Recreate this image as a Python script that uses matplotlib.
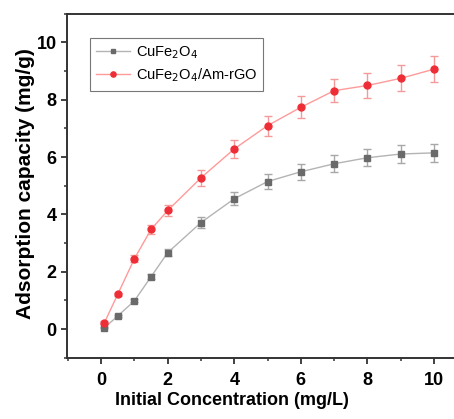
import matplotlib.pyplot as plt
from matplotlib.ticker import MultipleLocator

plt.rcParams['font.family'] = ['Liberation Sans', 'DejaVu Sans']

conc = [0.1, 0.5, 1, 1.5, 2, 3, 4, 5, 6, 7, 8, 9, 10]
cufe = [0.05, 0.46, 0.99, 1.83, 2.67, 3.72, 4.55, 5.15, 5.49, 5.77, 5.98, 6.11, 6.15]
cufe_err = [0.02, 0.03, 0.05, 0.09, 0.13, 0.18, 0.22, 0.27, 0.28, 0.29, 0.29, 0.30, 0.31]
rgo = [0.23, 1.22, 2.46, 3.48, 4.14, 5.28, 6.29, 7.10, 7.74, 8.32, 8.50, 8.75, 9.07]
rgo_err = [0.05, 0.05, 0.12, 0.17, 0.20, 0.28, 0.31, 0.35, 0.38, 0.41, 0.42, 0.45, 0.45]
labels = ['CuFe$_2$O$_4$', 'CuFe$_2$O$_4$/Am-rGO']

fig = plt.figure(figsize=(4.54, 4.19), dpi=100)
ax = fig.add_axes([0.148, 0.146, 0.852, 0.821])

eb1 = ax.errorbar(conc, cufe, yerr=cufe_err, color='#b4b4b4', lw=1,
                  marker='s', ms=4.5, mfc='#6a6a6a', mec='#6a6a6a',
                  ecolor='#a8a8a8', elinewidth=1, capsize=3, capthick=1)
eb2 = ax.errorbar(conc, rgo, yerr=rgo_err, color='#ff9a9a', lw=1,
                  marker='o', ms=5, mfc='#ee2e36', mec='#ee2e36',
                  ecolor='#f59a9a', elinewidth=1, capsize=3, capthick=1)

ax.set_xlim(-1.02, 10.6)
ax.set_ylim(-1.0, 11.0)
ax.xaxis.set_major_locator(MultipleLocator(2))
ax.xaxis.set_minor_locator(MultipleLocator(1))
ax.yaxis.set_major_locator(MultipleLocator(2))
ax.yaxis.set_minor_locator(MultipleLocator(1))
ax.tick_params(which='major', direction='out', length=4, width=1.3,
               labelsize=13, color='#333333')
ax.tick_params(axis='x', pad=6)
ax.tick_params(which='minor', direction='out', length=2.5, width=1.1,
               color='#333333')
for lab in ax.get_xticklabels() + ax.get_yticklabels():
    lab.set_fontweight('bold')

for s in ['left', 'bottom', 'top']:
    ax.spines[s].set_linewidth(1.4)
    ax.spines[s].set_color('#333333')
ax.spines['right'].set_visible(False)

# axis titles placed by figure fraction
fig.text(232 / 454, 1 - 400 / 419, 'Initial Concentration (mg/L)',
         fontsize=13, fontweight='bold', ha='center', va='center')
fig.text(26 / 454, 1 - 184 / 419, 'Adsorption capacity (mg/g)',
         fontsize=15, fontweight='bold', ha='center', va='center', rotation=90)

# legend shows only line + marker, no error caps
leg = ax.legend([eb1[0], eb2[0]], labels,
                loc='upper left', bbox_to_anchor=(0.058, 0.93), borderaxespad=0,
                fontsize=10.5, frameon=True, fancybox=False, edgecolor='#555555',
                handlelength=2.3, handletextpad=0.4, borderpad=0.45,
                labelspacing=0.35, markerscale=0.75)
leg.get_frame().set_linewidth(0.8)

fig.savefig('out.png', dpi=100)
